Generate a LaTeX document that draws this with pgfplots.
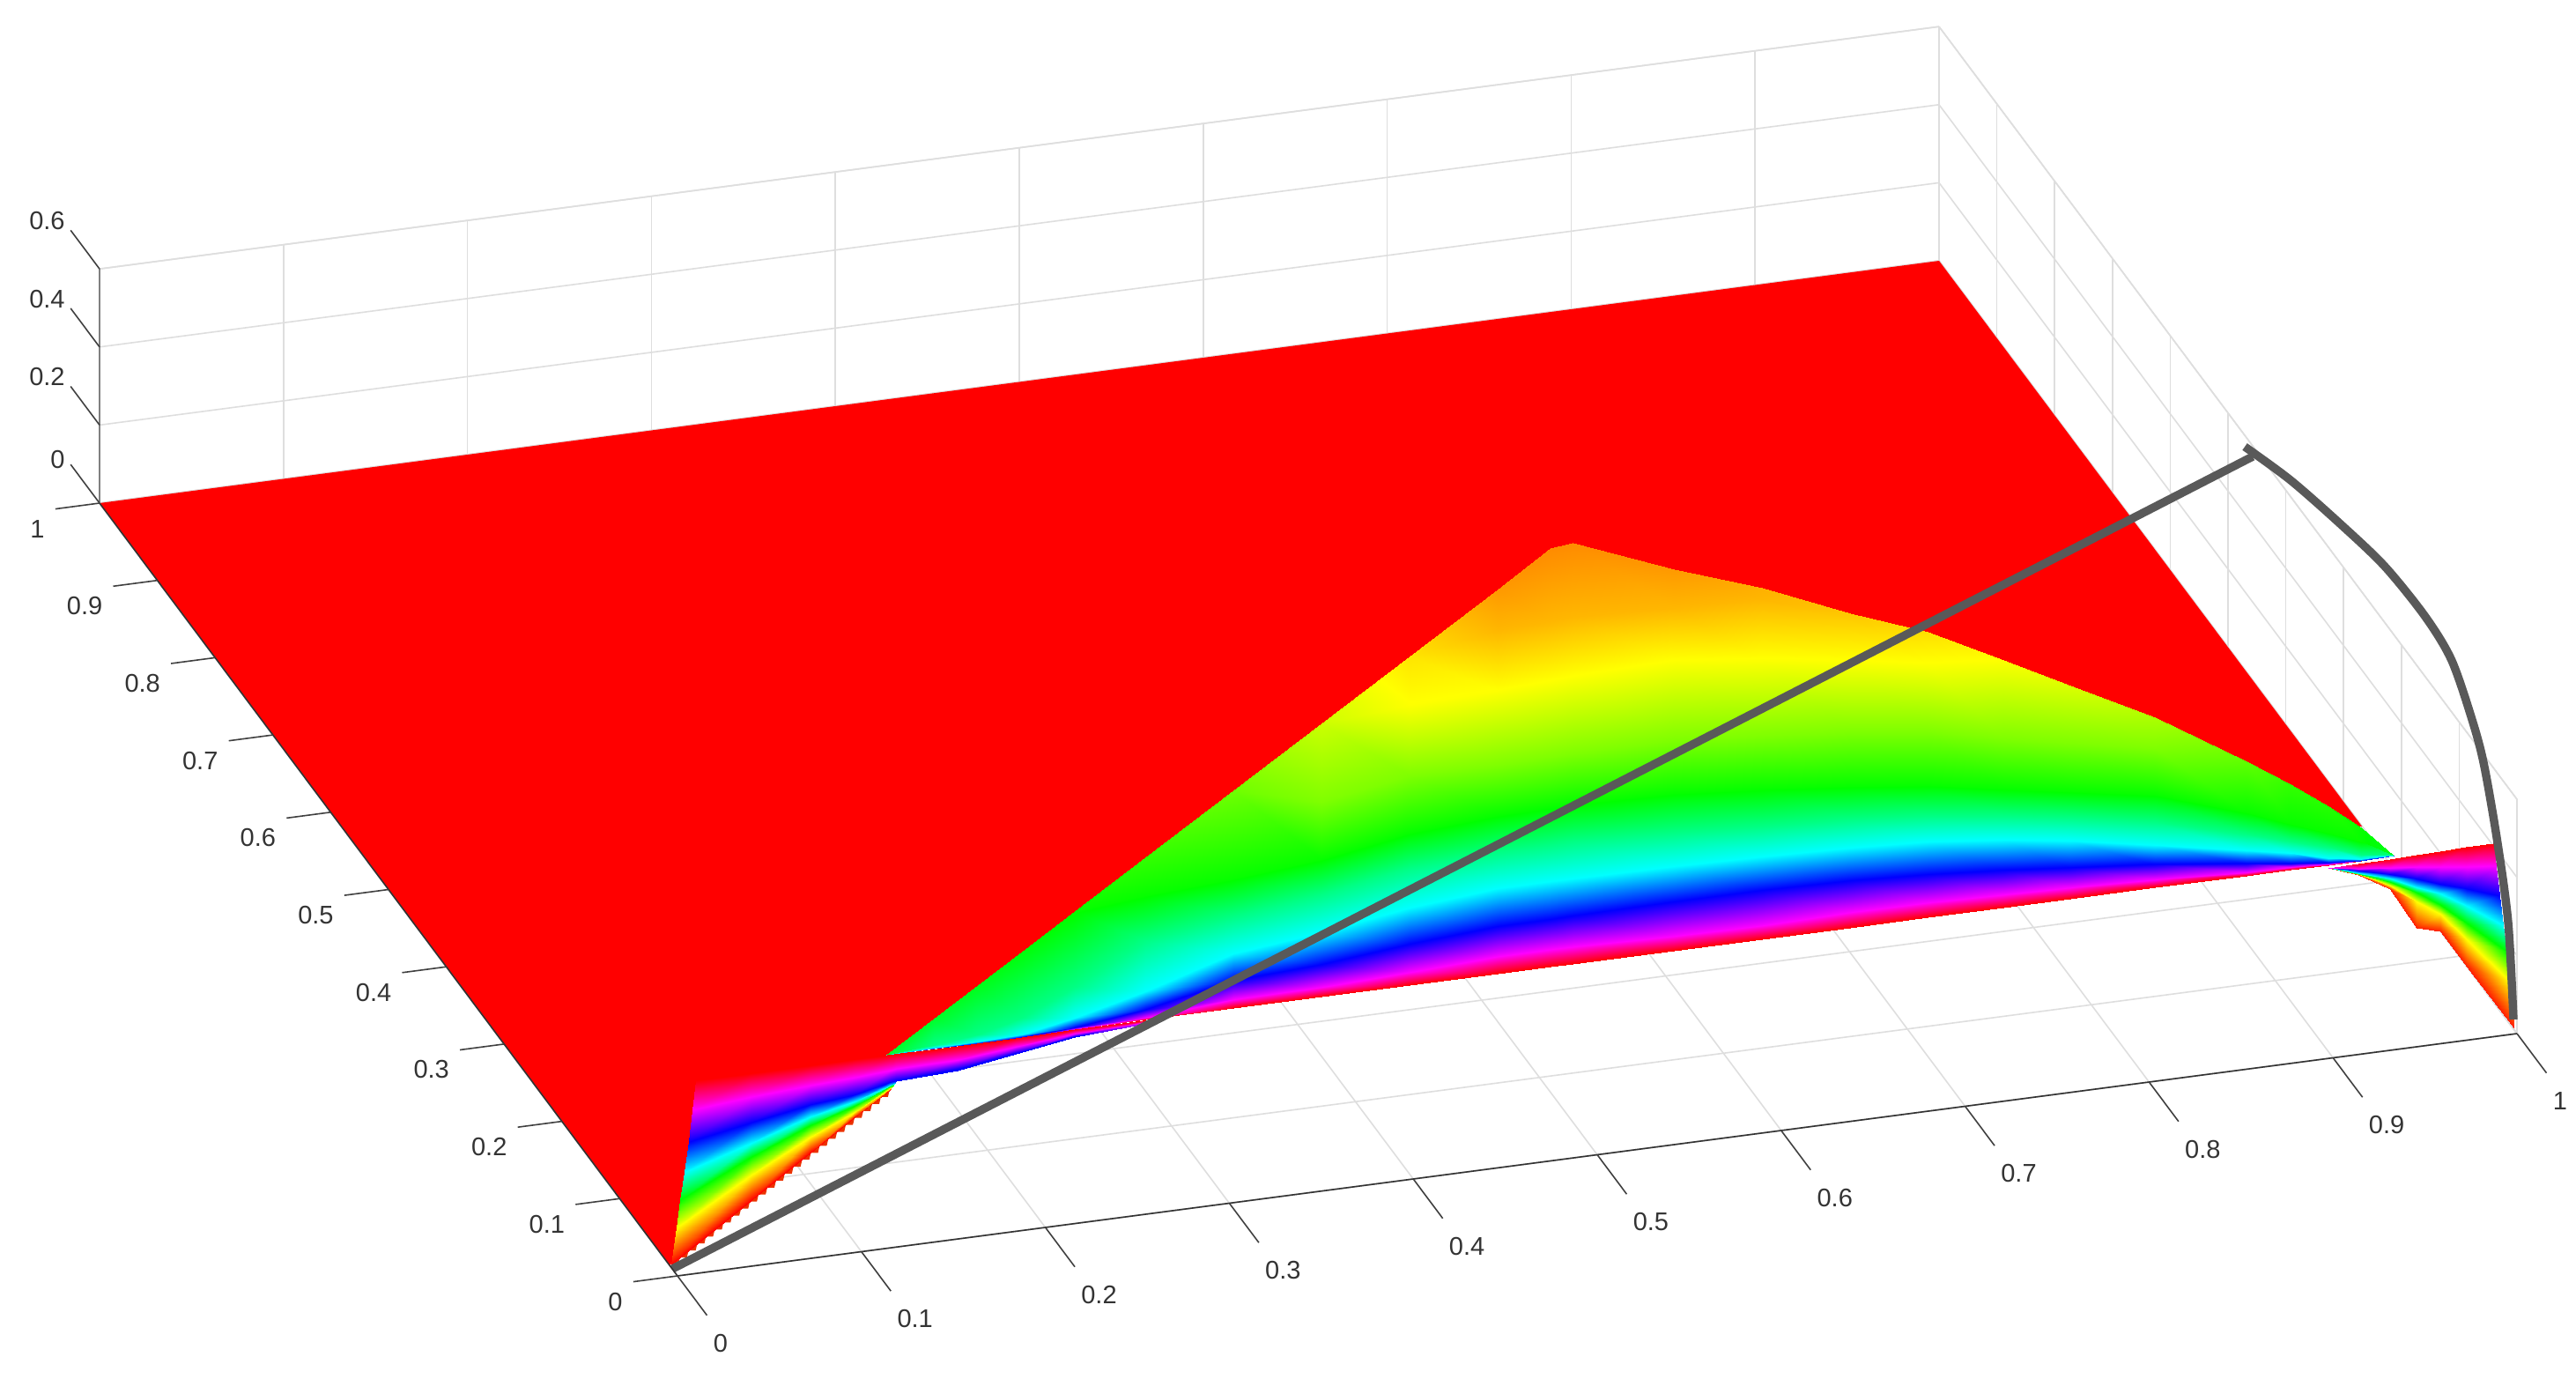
\documentclass[border=0pt]{standalone}
\usepackage{pgfplots}
\pgfplotsset{compat=1.18}
\usepackage{fontspec}
\setmainfont{Liberation Sans}
\pgfplotstableread{
x y z
0.1136 0.0005 0.495
0.1258 0.0392 0.411
0.1372 0.0757 0.332
0.1494 0.1143 0.2475
0.1551 0.1325 0.208
0.1594 0.1462 0.178
0.1594 0.1462 0.178
0.1594 0.1462 0.178
0.1594 0.1462 0.178
0.1594 0.1462 0.178
0.1395 0.0004 0.495
0.1517 0.0391 0.411
0.1631 0.0755 0.332
0.1756 0.1152 0.2475
0.1823 0.1366 0.208
0.1964 0.1814 0.178
0.1964 0.1814 0.178
0.1964 0.1814 0.178
0.1964 0.1814 0.178
0.1964 0.1814 0.178
0.1633 0 0.495
0.1754 0.0385 0.411
0.1869 0.0750 0.332
0.1997 0.1156 0.2475
0.2080 0.1422 0.208
0.2312 0.2162 0.173
0.2312 0.2162 0.173
0.2312 0.2162 0.173
0.2312 0.2162 0.173
0.2312 0.2162 0.173
0.1874 0.0003 0.495
0.1995 0.0390 0.411
0.2110 0.0754 0.332
0.2241 0.1171 0.2475
0.2360 0.1551 0.208
0.2661 0.2511 0.168
0.2661 0.2511 0.168
0.2661 0.2511 0.168
0.2661 0.2511 0.168
0.2661 0.2511 0.168
0.2164 0.0013 0.495
0.2285 0.0400 0.411
0.2406 0.0785 0.332
0.2564 0.1286 0.2475
0.2735 0.1832 0.208
0.3080 0.2929 0.163
0.3080 0.2929 0.163
0.3080 0.2929 0.163
0.3080 0.2929 0.163
0.3080 0.2929 0.163
0.2549 0.0018 0.495
0.2677 0.0426 0.411
0.2821 0.0884 0.332
0.3010 0.1488 0.2475
0.3254 0.2262 0.208
0.3487 0.3007 0.163
0.3649 0.3522 0.1485
0.3649 0.3522 0.1485
0.3649 0.3522 0.1485
0.3649 0.3522 0.1485
0.3027 0.0016 0.495
0.3181 0.0507 0.411
0.3364 0.1090 0.332
0.3587 0.1797 0.2475
0.3781 0.2416 0.208
0.3985 0.3067 0.163
0.4361 0.4265 0.129
0.4361 0.4265 0.129
0.4361 0.4265 0.129
0.4361 0.4265 0.129
0.3505 0.0015 0.495
0.3663 0.0516 0.411
0.3859 0.1140 0.332
0.4101 0.1911 0.2475
0.4298 0.2540 0.208
0.4493 0.3159 0.163
0.4762 0.4017 0.124
0.5088 0.5054 0.099
0.5088 0.5054 0.099
0.5088 0.5054 0.099
0.3984 0.0013 0.495
0.4154 0.0556 0.411
0.4370 0.1242 0.332
0.4628 0.2064 0.2475
0.4832 0.2714 0.208
0.5027 0.3334 0.163
0.5296 0.4191 0.124
0.5616 0.5210 0.083
0.5808 0.5820 0.074
0.5808 0.5820 0.074
0.4462 0.0011 0.495
0.4649 0.0606 0.411
0.4871 0.1313 0.332
0.5136 0.2156 0.2475
0.5327 0.2764 0.208
0.5528 0.3404 0.163
0.5771 0.4179 0.124
0.6104 0.5240 0.083
0.6363 0.6063 0.059
0.6527 0.6586 0.0495
0.4750 0.0012 0.495
0.4937 0.0607 0.411
0.5159 0.1314 0.332
0.5424 0.2157 0.2475
0.5615 0.2765 0.208
0.5819 0.3416 0.163
0.6062 0.4190 0.124
0.6402 0.5272 0.083
0.6657 0.6084 0.059
0.6950 0.7015 0.045
0.4869 0.0009 0.495
0.5056 0.0604 0.411
0.5281 0.1321 0.332
0.5543 0.2154 0.2475
0.5737 0.2772 0.208
0.5941 0.3423 0.163
0.6185 0.4198 0.124
0.6528 0.5290 0.083
0.6783 0.6102 0.059
0.7078 0.7043 0.045
0.5419 0.0008 0.495
0.5596 0.0572 0.411
0.5835 0.1330 0.332
0.6090 0.2142 0.2475
0.6271 0.2719 0.208
0.6482 0.3391 0.163
0.6734 0.4196 0.124
0.7087 0.5319 0.083
0.7316 0.6049 0.059
0.7474 0.6552 0.0495
0.5897 0.0006 0.495
0.6071 0.0559 0.411
0.6313 0.1328 0.332
0.6561 0.2119 0.2475
0.6729 0.2655 0.208
0.6934 0.3306 0.163
0.7187 0.4111 0.124
0.7530 0.5203 0.083
0.7785 0.6016 0.059
0.7831 0.6162 0.057
0.6376 0.0005 0.495
0.6556 0.0579 0.411
0.6785 0.1306 0.332
0.7029 0.2087 0.2475
0.7191 0.2602 0.208
0.7380 0.3201 0.163
0.7639 0.4027 0.124
0.7959 0.5046 0.083
0.8162 0.5691 0.064
0.8162 0.5691 0.064
0.6799 0.0008 0.495
0.6976 0.0572 0.411
0.7191 0.1258 0.332
0.7436 0.2039 0.2475
0.7589 0.2523 0.208
0.7767 0.3090 0.163
0.8023 0.3906 0.124
0.8333 0.4894 0.083
0.8466 0.5318 0.072
0.8466 0.5318 0.072
0.7210 0.0006 0.495
0.7381 0.0548 0.411
0.7583 0.1193 0.332
0.7818 0.1942 0.2475
0.7964 0.2406 0.208
0.8129 0.2932 0.163
0.8372 0.3706 0.124
0.8721 0.4819 0.083
0.8721 0.4819 0.083
0.8721 0.4819 0.083
0.7573 0.0005 0.495
0.7738 0.0528 0.411
0.7924 0.1121 0.332
0.8146 0.1829 0.2475
0.8288 0.2281 0.208
0.8450 0.2797 0.163
0.8687 0.3550 0.124
0.8941 0.4361 0.094
0.8941 0.4361 0.094
0.8941 0.4361 0.094
0.8035 0.0009 0.495
0.8186 0.0490 0.411
0.8356 0.1031 0.332
0.8548 0.1645 0.2475
0.8691 0.2098 0.208
0.8856 0.2624 0.163
0.9086 0.3357 0.124
0.9222 0.3789 0.109
0.9222 0.3789 0.109
0.9222 0.3789 0.109
0.8530 0.0001 0.495
0.8665 0.0430 0.411
0.8812 0.0898 0.332
0.8982 0.1440 0.2475
0.9098 0.1809 0.208
0.9244 0.2273 0.163
0.9476 0.3012 0.134
0.9476 0.3012 0.134
0.9476 0.3012 0.134
0.9476 0.3012 0.134
0.8771 0.0006 0.495
0.8902 0.0424 0.411
0.9030 0.0830 0.332
0.9190 0.1341 0.2475
0.9290 0.1658 0.208
0.9419 0.2070 0.163
0.9588 0.2606 0.1485
0.9588 0.2606 0.1485
0.9588 0.2606 0.1485
0.9588 0.2606 0.1485
0.8975 0.0000 0.495
0.9100 0.0396 0.411
0.9221 0.0781 0.332
0.9359 0.1219 0.2475
0.9455 0.1527 0.208
0.9575 0.1908 0.163
0.9687 0.2265 0.153
0.9687 0.2265 0.153
0.9687 0.2265 0.153
0.9687 0.2265 0.153
0.9153 0.0000 0.495
0.9274 0.0388 0.411
0.9389 0.0752 0.332
0.9516 0.1159 0.2475
0.9590 0.1394 0.208
0.9703 0.1754 0.163
0.9755 0.1920 0.163
0.9755 0.1920 0.163
0.9755 0.1920 0.163
0.9755 0.1920 0.163
0.9333 0.0012 0.495
0.9455 0.0399 0.411
0.9569 0.0763 0.332
0.9690 0.1150 0.2475
0.9748 0.1332 0.208
0.9798 0.1491 0.173
0.9798 0.1491 0.173
0.9798 0.1491 0.173
0.9798 0.1491 0.173
0.9798 0.1491 0.173
}\mainsheet
\pgfplotstableread{
x y z
0.0099 0 0.495
0.0094 0.0039 0.411
0.0075 0.0046 0.332
0.0061 0.0075 0.2475
0.0059 0.0139 0.163
0.0056 0.0189 0.083
0.0010 0.0145 0
0.0399 0 0.495
0.0436 0.0103 0.411
0.0459 0.0174 0.332
0.0504 0.0317 0.2475
0.0571 0.0532 0.163
0.0623 0.0696 0.083
0.0649 0.0781 0
0.0722 0 0.495
0.0770 0.0150 0.411
0.0814 0.0290 0.332
0.0891 0.0537 0.2475
0.0980 0.0821 0.163
0.1054 0.1054 0.083
0.1113 0.1244 0
0.0962 0 0.495
0.1015 0.0168 0.411
0.1070 0.0342 0.332
0.1164 0.0642 0.2475
0.1269 0.0977 0.163
0.1364 0.1279 0.083
0.1462 0.1590 0
0.1154 0 0.495
0.1217 0.0200 0.411
0.1288 0.0427 0.332
0.1399 0.0778 0.2475
0.1515 0.1148 0.163
0.1626 0.1502 0.083
0.1740 0.1864 0
0.1187 0 0.495
0.1252 0.0208 0.411
0.1325 0.0441 0.332
0.1323 0.0433 0.332
0.1323 0.0433 0.332
0.1323 0.0433 0.332
0.1323 0.0433 0.332
0.1522 0.0002 0.495
0.1589 0.0217 0.411
0.1671 0.0477 0.332
0.1666 0.0460 0.332
0.1666 0.0460 0.332
0.1666 0.0460 0.332
0.1666 0.0460 0.332
0.1842 0.0004 0.495
0.1929 0.0282 0.411
0.2022 0.0576 0.332
0.2019 0.0566 0.332
0.2019 0.0566 0.332
0.2019 0.0566 0.332
0.2019 0.0566 0.332
0.2163 0.0010 0.495
0.2270 0.0351 0.411
0.2374 0.0682 0.332
0.2371 0.0671 0.332
0.2371 0.0671 0.332
0.2371 0.0671 0.332
0.2371 0.0671 0.332
0.2642 0.0012 0.495
0.2757 0.0378 0.411
0.2754 0.0368 0.411
0.2754 0.0368 0.411
0.2754 0.0368 0.411
0.2754 0.0368 0.411
0.2754 0.0368 0.411
}\leftsheet
\pgfplotstableread{
x y z
0.8966 -0.0032 0.495
0.9088 0.0355 0.411
0.9202 0.0719 0.332
0.9324 0.1105 0.2475
0.9445 0.1492 0.163
0.9562 0.1864 0.083
0.9667 0.2198 0.01
0.9129 -0.0026 0.495
0.9231 0.0298 0.411
0.9338 0.0639 0.332
0.9451 0.1000 0.2475
0.9570 0.1377 0.163
0.9684 0.1742 0.083
0.9788 0.2072 0.01
0.9305 -0.0022 0.495
0.9393 0.0259 0.411
0.9484 0.0547 0.332
0.9591 0.0888 0.2475
0.9699 0.1233 0.163
0.9802 0.1560 0.083
0.9893 0.1850 0.01
0.9450 -0.0017 0.495
0.9526 0.0225 0.411
0.9598 0.0454 0.332
0.9689 0.0743 0.2475
0.9789 0.1062 0.163
0.9873 0.1330 0.083
0.9882 0.1359 0.01
0.9579 -0.0011 0.495
0.9643 0.0192 0.411
0.9695 0.0356 0.332
0.9781 0.0631 0.2475
0.9861 0.0887 0.163
0.9945 0.1154 0.083
0.9983 0.1275 0.01
0.9724 0 0.495
0.9775 0.0154 0.411
0.9810 0.0263 0.332
0.9866 0.0442 0.2475
0.9922 0.0621 0.163
0.9979 0.0802 0.083
0.9986 0.0825 0.01
0.9871 0 0.495
0.9922 0.0112 0.411
0.9945 0.0125 0.332
0.9974 0.0161 0.2475
1.0014 0.0230 0.163
1.0038 0.0252 0.083
0.9991 0.0025 0.01
}\rightsheet
\begin{document}
\begin{tikzpicture}
\useasboundingbox (0,0) rectangle (1462pt,782pt);
\begin{axis}[
 at={(384.5pt,58pt)},anchor=origin,
 x={(1044pt,137.5pt)},y={(-328pt,438.5pt)},z={(0pt,221.5pt)},
 xmin=0,xmax=1,ymin=0,ymax=1,zmin=0,zmax=0.6,
 clip=false,
 grid=major,
 major grid style={black!13,line width=0.8pt},
 axis line style={black!13,line width=0.8pt},
 tick style={draw=none},
 tick align=outside,
 major tick length=27pt,
 xtick={0,0.1,0.2,0.3,0.4,0.5,0.6,0.7,0.8,0.9,1},
 ytick={0,0.1,0.2,0.3,0.4,0.5,0.6,0.7,0.8,0.9,1},
 ztick={0,0.2,0.4,0.6},
 /pgf/number format/assume math mode=true,
 /pgf/number format/fixed,
 tick label style={font=\fontsize{14.5}{15}\selectfont,text=black!80},
 xticklabel style={anchor=west,xshift=0.67pt,yshift=-16.4pt},
 yticklabel style={anchor=east,xshift=-0.9pt,yshift=-11pt},
 colormap={hsvm}{rgb=(1,0,0) rgb=(1,1,0) rgb=(0,1,0) rgb=(0,1,1) rgb=(0,0,1) rgb=(1,0,1) rgb=(1,0,0)},
 point meta min=0,point meta max=0.495,
]
\addplot3[fill=red,draw=none] coordinates {(0,0.0137,0) (0,1,0) (1,1,0) (1,0.268,0) (0.4973,0.4689,0) (0.2023,0.2308,0) (0.0088,0.0235,0)} -- cycle;
\addplot3[surf,shader=interp,mesh/rows=24] table[x=x,y=y,z=z] {\mainsheet};
\addplot3[fill={rgb,255:red,235;green,50;blue,0},draw=none] coordinates {
(0.0011,0.0145,0) (0.0046,0.0134,0) (0.0080,0.0214,0) (0.0115,0.0203,0) (0.0149,0.0282,0) (0.0184,0.0271,0)
(0.0218,0.0351,0) (0.0253,0.0340,0) (0.0287,0.0420,0) (0.0322,0.0409,0) (0.0356,0.0488,0) (0.0391,0.0477,0)
(0.0425,0.0557,0) (0.0460,0.0546,0) (0.0494,0.0626,0) (0.0529,0.0615,0) (0.0564,0.0694,0) (0.0599,0.0683,0)
(0.0633,0.0763,0) (0.0668,0.0752,0) (0.0702,0.0832,0) (0.0737,0.0821,0) (0.0771,0.0900,0) (0.0806,0.0889,0)
(0.0840,0.0969,0) (0.0875,0.0958,0) (0.0909,0.1037,0) (0.0944,0.1026,0) (0.0978,0.1106,0) (0.1013,0.1095,0)
(0.1047,0.1175,0) (0.1082,0.1164,0) (0.1116,0.1243,0) (0.1151,0.1232,0) (0.1185,0.1312,0) (0.1220,0.1301,0)
(0.1254,0.1381,0) (0.1289,0.1370,0) (0.1323,0.1449,0) (0.1358,0.1438,0) (0.1392,0.1518,0) (0.1427,0.1507,0)
(0.1461,0.1587,0) (0.1496,0.1576,0) (0.1530,0.1655,0) (0.1565,0.1644,0) (0.1600,0.1724,0) (0.1635,0.1713,0)
(0.1669,0.1793,0) (0.1704,0.1782,0) (0.1738,0.1861,0)} -- cycle;
\addplot3[surf,shader=interp,mesh/rows=10] table[x=x,y=y,z=z] {\leftsheet};
\addplot3[surf,shader=interp,mesh/rows=7] table[x=x,y=y,z=z] {\rightsheet};
\addplot3[color=black!65,line width=4.7pt,line join=round] coordinates {(0,0.009,0) (1,0.4573,0.573)};
\addplot3[color=black!65,line width=4.7pt,line join=round,smooth] coordinates {(1,0.471,0.571) (1,0.3918,0.642) (1,0.3049,0.701) (1,0.2287,0.744) (1,0.1585,0.754) (1,0.1128,0.732) (1,0.0762,0.646) (1,0.0564,0.572) (1,0.0335,0.421) (1,0.0152,0.254) (1,0.0061,0.024)};
\draw[black!80,line width=0.8pt] (axis cs:0,0,0)--(axis cs:1,0,0);
\draw[black!80,line width=0.8pt] (axis cs:0,0,0)--(axis cs:0,1,0);
\draw[black!50,line width=1.3pt] (axis cs:0,1,0)--(axis cs:0,1,0.6);
\pgfplotsinvokeforeach{0,0.1,0.2,0.3,0.4,0.5,0.6,0.7,0.8,0.9,1}{
 \draw[black!75,line width=0.8pt] (axis cs:#1,0,0)--(axis cs:#1,-0.051,0);
 \draw[black!75,line width=0.8pt] (axis cs:0,#1,0)--(axis cs:-0.024,#1,0);
}
\pgfplotsinvokeforeach{0,0.2,0.4,0.6}{
 \draw[black!75,line width=0.8pt] (axis cs:0,1,#1)--(axis cs:0,1.05,#1);
}
\end{axis}
\end{tikzpicture}
\end{document}
